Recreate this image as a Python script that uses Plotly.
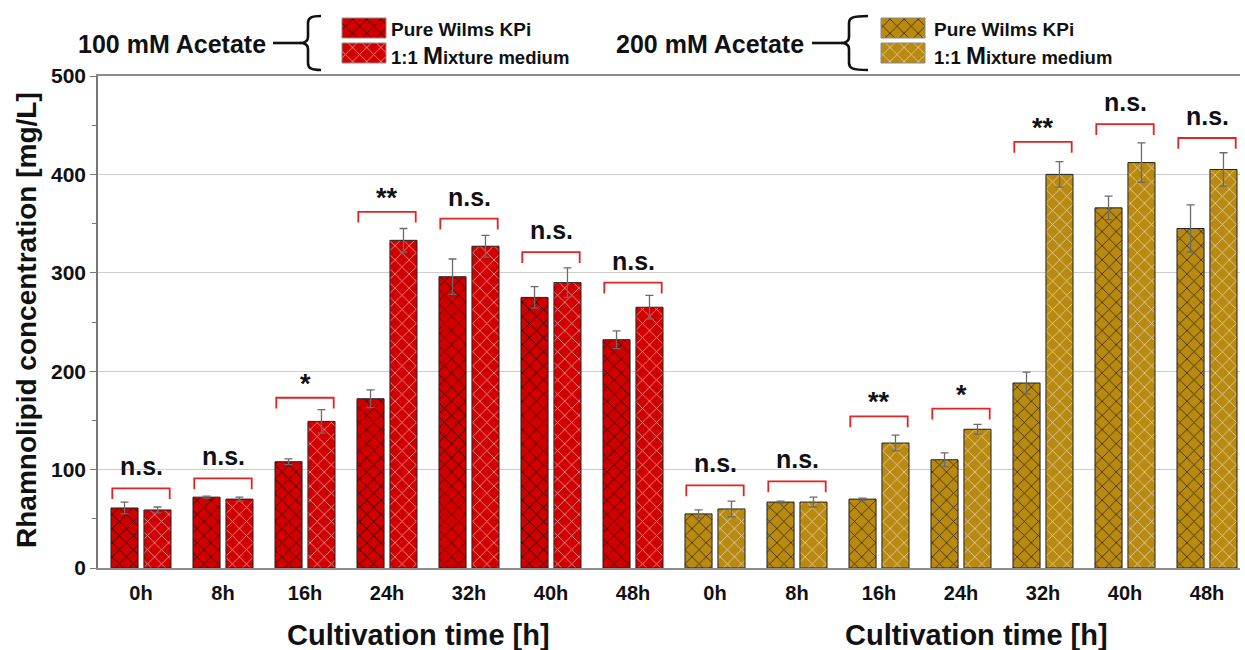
import plotly.graph_objects as go

# ---- data -------------------------------------------------------------
time_labels = ["0h", "8h", "16h", "24h", "32h", "40h", "48h"]

# 100 mM acetate
pure_100 = [61, 72, 108, 172, 296, 275, 232]
pure_100_err = [6, 1, 3, 9, 18, 11, 9]
mix_100 = [59, 70, 149, 333, 327, 290, 265]
mix_100_err = [3, 2, 12, 12, 11, 15, 12]

# 200 mM acetate
pure_200 = [55, 67, 70, 110, 188, 366, 345]
pure_200_err = [4, 1, 1, 7, 11, 12, 24]
mix_200 = [60, 67, 127, 141, 400, 412, 405]
mix_200_err = [8, 5, 8, 5, 13, 20, 17]

# significance brackets (top level of bracket, label)
sig_100_level = [81, 91, 173, 362, 355, 321, 290]
sig_100 = ["n.s.", "n.s.", "*", "**", "n.s.", "n.s.", "n.s."]
sig_200_level = [84, 88, 154, 162, 433, 451, 437]
sig_200 = ["n.s.", "n.s.", "**", "*", "**", "n.s.", "n.s."]

# ---- layout geometry ----------------------------------------------------
W, H = 1245, 650
ML, MR, MT, MB = 98, 5, 5, 82
PLOT_W = W - ML - MR
PLOT_H = H - MT - MB
AX_TOP_PX = 76
main_top = (H - MB - AX_TOP_PX) / PLOT_H


def px(xp):
    return (xp - ML) / PLOT_W


def py(yp):
    return (H - MB - yp) / PLOT_H


FONT = "Arial, Liberation Sans, sans-serif"
RED = "#d10000"
GOLD = "#b98a12"

x_100 = list(range(len(time_labels)))
x_200 = [i + len(time_labels) for i in x_100]

BAR_W = 0.33
OFF_PURE = -0.366
OFF_MIX = 0.036


def pattern(color, fg, fgop):
    return dict(shape="x", size=10, solidity=0.16, fgcolor=fg, fgopacity=fgop,
                bgcolor=color, fillmode="replace")


def bar_trace(x, y, err, color, fg, fgop, offset):
    return go.Bar(
        x=x, y=y, width=BAR_W, offset=offset,
        marker=dict(color=color, line=dict(color="#222222", width=1),
                    pattern=pattern(color, fg, fgop)),
        error_y=dict(type="data", array=err, color="#6a6a6a", thickness=1.3, width=4),
        showlegend=False, hoverinfo="skip", xaxis="x", yaxis="y",
    )


fig = go.Figure()
fig.add_trace(bar_trace(x_100, pure_100, pure_100_err, RED, "#1a0000", 0.85, OFF_PURE))
fig.add_trace(bar_trace(x_100, mix_100, mix_100_err, RED, "#ffffff", 0.6, OFF_MIX))
fig.add_trace(bar_trace(x_200, pure_200, pure_200_err, GOLD, "#1a1000", 0.8, OFF_PURE))
fig.add_trace(bar_trace(x_200, mix_200, mix_200_err, GOLD, "#ffffff", 0.6, OFF_MIX))

# ---- legend keys on a hidden pixel-scaled axis -------------------------
key_specs = [
    (342, 28, RED, "#1a0000", 0.85),
    (342, 53, RED, "#ffffff", 0.6),
    (881, 28, GOLD, "#1a1000", 0.8),
    (881, 53, GOLD, "#ffffff", 0.6),
]
for kx, ky, col, fg, fgop in key_specs:
    fig.add_trace(go.Bar(
        orientation="h", base=[kx], x=[44], y=[ky], width=[20],
        marker=dict(color=col, line=dict(color="#8a8a8a", width=1),
                    pattern=pattern(col, fg, fgop)),
        showlegend=False, hoverinfo="skip", xaxis="x2", yaxis="y2",
    ))

shapes = []
annotations = []

# significance brackets and labels
for xs, levels, labels in ((x_100, sig_100_level, sig_100), (x_200, sig_200_level, sig_200)):
    for xi, lev, lab in zip(xs, levels, labels):
        x0, x1 = xi - 0.35, xi + 0.35
        shapes.append(dict(
            type="path", xref="x", yref="y",
            path=f"M{x0},{lev - 11} L{x0},{lev} L{x1},{lev} L{x1},{lev - 11}",
            line=dict(color="#e02424", width=1.8),
        ))
        star = lab.startswith("*")
        annotations.append(dict(
            x=xi, y=lev, xref="x", yref="y", text=f"<b>{lab}</b>", showarrow=False,
            yanchor="bottom", yshift=-3 if star else 6,
            font=dict(family=FONT, size=27 if star else 25, color="#111111"),
        ))


def brace_path(stem, hook, tip, top, bottom):
    mid = (top + bottom) / 2
    pts = [
        ("M", [(hook, top)]),
        ("C", [(stem + 3, top), (stem, top + 2), (stem, top + 7)]),
        ("L", [(stem, mid - 6)]),
        ("C", [(stem, mid - 2), (stem - 2, mid), (tip, mid)]),
        ("C", [(stem - 2, mid), (stem, mid + 2), (stem, mid + 6)]),
        ("L", [(stem, bottom - 7)]),
        ("C", [(stem, bottom - 2), (stem + 3, bottom), (hook, bottom)]),
    ]
    out = []
    for cmd, plist in pts:
        out.append(cmd + " ".join(f"{px(a):.5f},{py(b):.5f}" for a, b in plist))
    return " ".join(out)


for stem, hook, tip, d0, d1 in ((308, 321, 300, 273, 301), (849, 868, 841, 812, 842)):
    shapes.append(dict(type="path", xref="paper", yref="paper",
                       path=brace_path(stem, hook, tip, 16, 70),
                       line=dict(color="#111111", width=2.6)))
    shapes.append(dict(type="line", xref="paper", yref="paper",
                       x0=px(d0), x1=px(d1), y0=py(43), y1=py(43),
                       line=dict(color="#111111", width=2.6)))

# group titles
for txt, right in (("100 mM Acetate", 268), ("200 mM Acetate", 806)):
    annotations.append(dict(
        x=px(right), y=py(44), xref="paper", yref="paper", text=f"<b>{txt}</b>",
        showarrow=False, xanchor="right", yanchor="middle",
        font=dict(family=FONT, size=25, color="#111111"),
    ))

# legend labels
for left in (389, 932):
    annotations.append(dict(
        x=px(left), y=py(29), xref="paper", yref="paper", text="<b>Pure Wilms KPi</b>",
        showarrow=False, xanchor="left", yanchor="middle",
        font=dict(family=FONT, size=19, color="#111111"),
    ))
    annotations.append(dict(
        x=px(left), y=py(55), xref="paper", yref="paper",
        text="<b>1:1 <span style='font-size:24px'>M</span>ixture medium</b>",
        showarrow=False, xanchor="left", yanchor="middle",
        font=dict(family=FONT, size=18.5, color="#111111"),
    ))

# axis titles
for cx in (418, 976):
    annotations.append(dict(
        x=px(cx), y=py(635), xref="paper", yref="paper", text="<b>Cultivation time [h]</b>",
        showarrow=False, xanchor="center", yanchor="middle",
        font=dict(family=FONT, size=29, color="#111111"),
    ))
annotations.append(dict(
    x=px(27), y=py(320), xref="paper", yref="paper",
    text="<b>Rhamnolipid concentration [mg/L]</b>", textangle=-90,
    showarrow=False, xanchor="center", yanchor="middle",
    font=dict(family=FONT, size=28, color="#111111"),
))

fig.update_layout(
    template="none",
    width=W, height=H,
    margin=dict(l=ML, r=MR, t=MT, b=MB, pad=0, autoexpand=False),
    paper_bgcolor="white", plot_bgcolor="rgba(0,0,0,0)",
    barmode="overlay", showlegend=False,
    font=dict(family=FONT, color="#111111"),
    xaxis=dict(
        domain=[0, 1], anchor="y", automargin=False,
        range=[-43 / 82, (W - MR - 141) / 82],
        tickmode="array", tickvals=x_100 + x_200, ticktext=time_labels * 2,
        tickfont=dict(family=FONT, size=20, color="#111111", weight="bold"),
        ticks="", ticklabelstandoff=6,
        showgrid=False, zeroline=False,
        showline=True, mirror=True, linecolor="#8c8c8c", linewidth=1.5,
    ),
    yaxis=dict(
        domain=[0, main_top], anchor="x", automargin=False,
        range=[0, 500], tickvals=[0, 100, 200, 300, 400, 500],
        tickfont=dict(family=FONT, size=21, color="#111111", weight="bold"),
        ticks="outside", ticklen=6, tickcolor="#777777", tickwidth=1.2,
        minor=dict(dtick=50, ticks="outside", ticklen=4, tickcolor="#777777", showgrid=False),
        showgrid=True, gridcolor="#cdcdcd", gridwidth=1,
        zeroline=False, showline=True, linecolor="#777777", linewidth=1.5,
    ),
    xaxis2=dict(domain=[0, 1], anchor="y2", range=[ML, W - MR], visible=False,
                fixedrange=True, automargin=False),
    yaxis2=dict(domain=[0, 1], anchor="x2", range=[H - MB, MT], visible=False,
                fixedrange=True, automargin=False),
    shapes=shapes,
    annotations=annotations,
)

fig.write_html("out.html")
